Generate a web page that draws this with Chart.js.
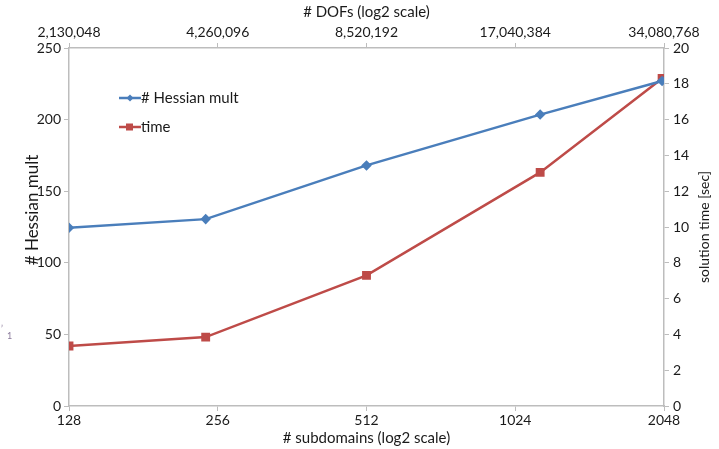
<!DOCTYPE html>
<html>
<head>
<meta charset="utf-8">
<script src="https://cdn.jsdelivr.net/npm/chart.js@4/dist/chart.umd.min.js"></script>
<style>
  html, body { margin: 0; padding: 0; background: #fff; }
  #wrap { width: 719px; height: 449px; position: relative; }
</style>
</head>
<body>
<div id="wrap"><canvas id="c" width="719" height="449"></canvas></div>
<script>
// Subdomain counts (log2 axis) and the measured series
const subdomainTicks = [128, 256, 512, 1024, 2048];
const dofTicks = [2130048, 4260096, 8520192, 17040384, 34080768];
const subdomains = [128, 242, 512, 1150, 2030];
const hessianMult = [124.5, 130.5, 168, 203.5, 227];
const solveTime = [3.35, 3.85, 7.3, 13.05, 18.3];

const BLUE = '#4a7ebb';
const RED = '#be4b48';
const AXIS = '#bdbdbd';
const TEXT = '#1a1a1a';
const FONT = 'Lato, "Open Sans", sans-serif';

const pts = (ys) => ys.map((y, i) => ({ x: subdomains[i], y }));

function fixBox(size) {
  return (scale) => {
    if (scale.isHorizontal()) scale.height = size; else scale.width = size;
  };
}

const axisTitles = {
  id: 'axisTitles',
  afterDraw(chart) {
    const ctx = chart.ctx;
    const a = chart.chartArea;
    const cx = (a.left + a.right) / 2;
    ctx.save();
    ctx.fillStyle = TEXT;
    ctx.textAlign = 'center';
    ctx.textBaseline = 'middle';
    ctx.font = '15px ' + FONT;
    ctx.fillText('# DOFs (log2 scale)', cx, 12);
    ctx.fillText('# subdomains (log2 scale)', cx, 438);
    ctx.save();
    ctx.translate(33, 210);
    ctx.rotate(-Math.PI / 2);
    ctx.font = '17px ' + FONT;
    ctx.fillText('# Hessian mult', 0, 0);
    ctx.restore();
    ctx.save();
    ctx.translate(704, 227);
    ctx.rotate(-Math.PI / 2);
    ctx.font = '14px ' + FONT;
    ctx.fillText('solution time [sec]', 0, 0);
    ctx.restore();

    // small stray mark at the far left edge
    ctx.fillStyle = '#8a7a9a';
    ctx.font = '9px ' + FONT;
    ctx.textAlign = 'left';
    ctx.fillText('1', 7, 336);
    ctx.fillText('\u2019', 1, 329);

    // legend drawn inside the plot
    const items = chart.data.datasets;
    items.forEach((ds, i) => {
      const y = 98 + i * 29;
      ctx.strokeStyle = ds.borderColor;
      ctx.lineWidth = 2.5;
      ctx.beginPath();
      ctx.moveTo(119, y);
      ctx.lineTo(141, y);
      ctx.stroke();
      ctx.fillStyle = ds.borderColor;
      if (ds.pointStyle === 'rect') {
        ctx.fillRect(126, y - 3.5, 7, 7);
      } else {
        ctx.beginPath();
        ctx.moveTo(130, y - 3.5); ctx.lineTo(133.5, y);
        ctx.lineTo(130, y + 3.5); ctx.lineTo(126.5, y);
        ctx.closePath(); ctx.fill();
      }
      ctx.fillStyle = TEXT;
      ctx.textAlign = 'left';
      ctx.font = '15px ' + FONT;
      ctx.fillText(ds.label, 141, y);
    });
    ctx.restore();
  }
};

const tickFont = { family: FONT, size: 14 };

new Chart(document.getElementById('c'), {
  type: 'line',
  data: {
    datasets: [
      {
        label: '# Hessian mult',
        data: pts(hessianMult),
        xAxisID: 'x', yAxisID: 'y',
        borderColor: BLUE, backgroundColor: BLUE,
        borderWidth: 2.5, pointStyle: 'rectRot', pointRadius: 3.5,
        tension: 0
      },
      {
        label: 'time',
        data: pts(solveTime),
        xAxisID: 'x', yAxisID: 'y1',
        borderColor: RED, backgroundColor: RED,
        borderWidth: 2.5, pointStyle: 'rect', pointRadius: 4.5,
        tension: 0
      }
    ]
  },
  options: {
    responsive: false,
    animation: false,
    layout: { padding: 0 },
    plugins: { legend: { display: false }, tooltip: { enabled: false } },
    scales: {
      x: {
        type: 'logarithmic', position: 'bottom',
        min: 128, max: 2048,
        afterBuildTicks: (s) => { s.ticks = subdomainTicks.map(v => ({ value: v })); },
        afterFit: fixBox(43),
        ticks: { autoSkip: false, maxRotation: 0, color: TEXT, font: tickFont, padding: 1,
                 callback: (v) => String(v) },
        grid: { drawOnChartArea: false, drawTicks: true, tickLength: 5, color: AXIS },
        border: { color: AXIS, width: 1.5 }
      },
      x2: {
        type: 'logarithmic', position: 'top',
        min: dofTicks[0], max: dofTicks[dofTicks.length - 1],
        afterBuildTicks: (s) => { s.ticks = dofTicks.map(v => ({ value: v })); },
        afterFit: fixBox(48),
        ticks: { autoSkip: false, maxRotation: 0, color: TEXT, font: tickFont, padding: 2,
                 callback: (v) => Number(v).toLocaleString('en-US') },
        grid: { drawOnChartArea: false, drawTicks: true, tickLength: 5, color: AXIS },
        border: { color: AXIS, width: 1.5 }
      },
      y: {
        position: 'left', min: 0, max: 250,
        afterFit: fixBox(69),
        ticks: { stepSize: 50, color: TEXT, font: tickFont, padding: 3 },
        grid: { drawOnChartArea: false, drawTicks: true, tickLength: 5, color: AXIS },
        border: { color: AXIS, width: 1.5 }
      },
      y1: {
        position: 'right', min: 0, max: 20,
        afterFit: fixBox(55),
        ticks: { stepSize: 2, color: TEXT, font: tickFont, padding: 4 },
        grid: { drawOnChartArea: false, drawTicks: true, tickLength: 5, color: AXIS },
        border: { color: AXIS, width: 1.5 }
      }
    }
  },
  plugins: [axisTitles]
});
</script>
</body>
</html>
